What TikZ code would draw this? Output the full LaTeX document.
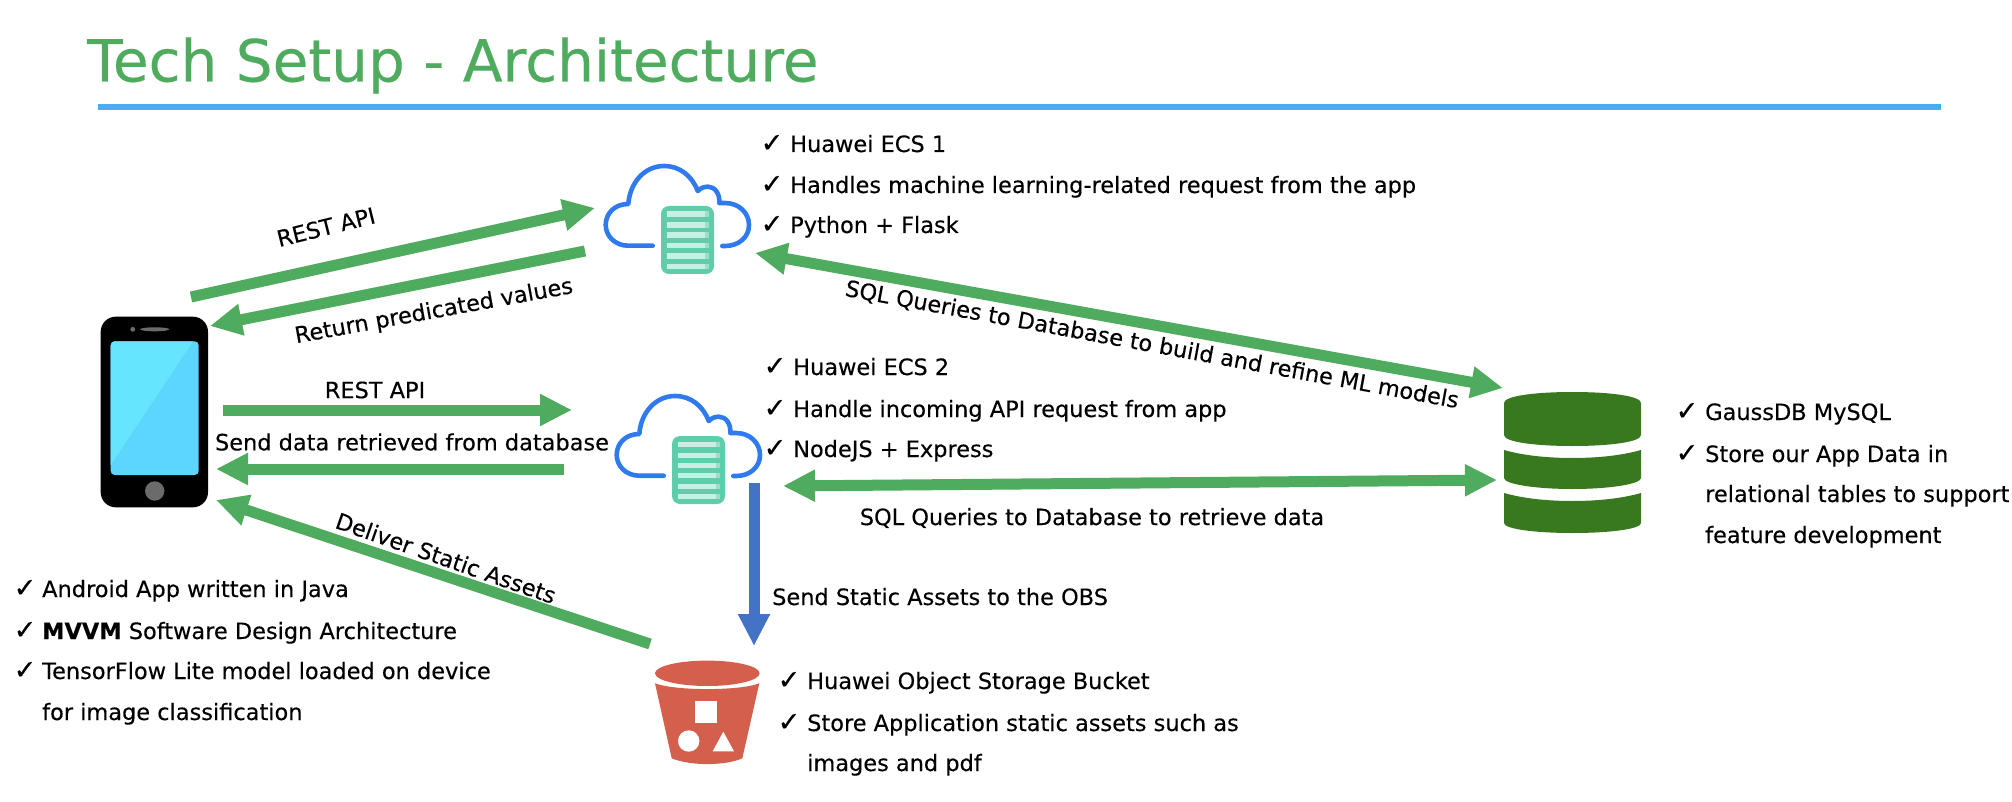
\documentclass[tikz,border=0pt]{standalone}
\usepackage{fontspec}
\setmainfont{DejaVu Sans}
\usetikzlibrary{arrows.meta}
\definecolor{brandgreen}{HTML}{4FAC5E}
\definecolor{rulesky}{HTML}{4AADEC}
\definecolor{cloudblue}{HTML}{2F7BEE}
\definecolor{srvgreen}{HTML}{5FCDAB}
\definecolor{srvpale}{HTML}{C5F0E3}
\definecolor{srvend}{HTML}{A2DCC9}
\definecolor{dbgreen}{HTML}{38791F}
\definecolor{bucketred}{HTML}{D45F4D}
\definecolor{sendblue}{HTML}{4472C4}
\definecolor{screenA}{HTML}{66E5FF}
\definecolor{screenB}{HTML}{5CD6FC}
\definecolor{phonegray}{HTML}{6B6B6B}
\tikzset{
  x=1pt,y=-1pt,
  body/.style={font=\fontsize{22.45}{26}\selectfont\addfontfeature{FakeBold=0.25},inner sep=0pt,text=black},
  item/.style={body,anchor=base west},
  tick/.style={inner sep=0pt,text=black,anchor=base,font=\fontsize{27}{30}\selectfont\addfontfeature{FakeBold=0.6}},
  blockg/.style={brandgreen,line width=11pt,-{Triangle[length=32pt,width=30pt]}},
  blockd/.style={brandgreen,line width=11pt,{Triangle[length=32pt,width=30pt]}-{Triangle[length=32pt,width=30pt]}},
  blockb/.style={sendblue,line width=11pt,-{Triangle[length=32pt,width=30pt]}},
  cloudsrv/.pic={
    \draw[cloudblue,line width=4.6pt,line cap=round,line join=round]
      (652.7,245.7) -- (628.3,245.7)
      .. controls (615,245.7) and (605.7,236) .. (605.7,225)
      .. controls (605.7,213) and (615,204) .. (628.3,204)
      .. controls (630,182) and (645,166) .. (664,166)
      .. controls (680,166) and (692,176) .. (697.7,191)
      .. controls (701,187.5) and (705,186.7) .. (708,186.7)
      .. controls (715,186.7) and (720,194) .. (719.3,203)
      -- (725,203)
      .. controls (739,203) and (749,213) .. (749,225)
      .. controls (749,237) and (739,246) .. (725,246)
      -- (722.3,246);
    \fill[srvgreen,rounded corners=8pt] (661,206) rectangle (714,274);
    \foreach \yy in {211.5,222.5,232.5,243,253.5,264}{
      \fill[srvpale] (667,\yy) rectangle (705,\yy+5.3);
      \fill[srvend] (705,\yy) rectangle (708.5,\yy+5.3);
    }
  }
}
\begin{document}
\begin{tikzpicture}
\useasboundingbox (0,0) rectangle (2012,802);
\fill[white] (0,0) rectangle (2012,802);

% title
\node[anchor=base west,inner sep=0pt,text=brandgreen,font=\fontsize{58.1}{64}\selectfont\addfontfeature{FakeBold=0.3}] (title) at (87,81.5) {Tech Setup - Architecture};
\fill[rulesky] (98,104) rectangle (1941,110);

% phone
\fill[black,rounded corners=15pt] (100.7,316.7) rectangle (208,507.3);
\fill[screenB,rounded corners=4pt] (110.7,341.3) rectangle (198.7,475);
\begin{scope}
  \clip[rounded corners=4pt] (110.7,341.3) rectangle (198.7,475);
  \fill[screenA] (110.7,341.3) -- (193,341.3) -- (110.7,465) -- cycle;
\end{scope}
\fill[phonegray] (132.7,329.3) circle (2.4);
\fill[phonegray] (154.7,329.3) ellipse (14.7 and 2);
\fill[phonegray] (154.7,491) circle (9.7);

% clouds with servers
\pic (ecsa) at (0,0) {cloudsrv};
\pic (ecsb) at (11,230) {cloudsrv};

% database
\fill[dbgreen] (1504,403) .. controls (1504,396) and (1535,392) .. (1572.5,392)
   .. controls (1610,392) and (1641,396) .. (1641,403) -- (1641,435)
   .. controls (1641,442) and (1610,446) .. (1572.5,446)
   .. controls (1535,446) and (1504,442) .. (1504,435) -- cycle;
\fill[dbgreen] (1504,450) .. controls (1525,456) and (1550,458) .. (1572.5,458)
   .. controls (1595,458) and (1620,456) .. (1641,450) -- (1641,478)
   .. controls (1641,484) and (1610,489) .. (1572.5,489)
   .. controls (1535,489) and (1504,484) .. (1504,478) -- cycle;
\fill[dbgreen] (1504,493) .. controls (1525,499) and (1550,501) .. (1572.5,501)
   .. controls (1595,501) and (1620,499) .. (1641,493) -- (1641,523)
   .. controls (1641,529) and (1610,533) .. (1572.5,533)
   .. controls (1535,533) and (1504,529) .. (1504,523) -- cycle;

% bucket
\fill[bucketred] (707.3,673.3) ellipse (52.3 and 12.7);
\fill[bucketred] (655,683.3) .. controls (675,691) and (740,691) .. (759.3,683.3)
   -- (742.3,758.3) .. controls (725,766) and (690,766) .. (671.7,758.3) -- cycle;
\fill[white] (695.3,700.7) rectangle (717.3,722.7);
\fill[white] (688.7,741) circle (10.7);
\fill[white] (712.7,751.3) -- (734,751.3) -- (723.3,731.7) -- cycle;

% connector ends
\coordinate (restAstart) at (191,297);
\coordinate (restAtip) at (595,208);
\coordinate (retAstart) at (585,251);
\coordinate (retAtip) at (210,326);
\coordinate (restBstart) at (223,410);
\coordinate (restBtip) at (572,410);
\coordinate (retBstart) at (564,469);
\coordinate (retBtip) at (216,469);
\coordinate (assetstart) at (650,644);
\coordinate (assettip) at (216,500);
\coordinate (sendstart) at (754,483);
\coordinate (sendtip) at (754,646);
\coordinate (sqlAa) at (755,253);
\coordinate (sqlAb) at (1503,388);
\coordinate (sqlBa) at (783,486);
\coordinate (sqlBb) at (1497,480);

\draw[blockg] (restAstart) -- (restAtip);
\draw[blockg] (retAstart) -- (retAtip);
\draw[blockg] (restBstart) -- (restBtip);
\draw[blockg] (retBstart) -- (retBtip);
\draw[blockg] (assetstart) -- (assettip);
\draw[blockb] (sendstart) -- (sendtip);
\draw[blockd] (sqlAa) -- (sqlAb);
\draw[blockd] (sqlBa) -- (sqlBb);

% connector labels
\node[body,rotate=14] (lrestA) at (326,227) {REST API};
\node[body,rotate=10.3] (lretA) at (434,312) {Return predicated values};
\node[body] (lrestB) at (375,390) {REST API};
\node[body] (lsend) at (412,442) {Send data retrieved from database};
\node[body,rotate=-19.3] (lasset) at (446,558) {Deliver Static Assets};
\node[body,rotate=-10.4] (lsqlA) at (1152,345) {SQL Queries to Database to build and refine ML models};
\node[body] (lsqlB) at (1092,518) {SQL Queries to Database to retrieve data};
\node[item] (lobs) at (772,605) {Send Static Assets to the OBS};

% lists
\newcommand{\ck}[2]{\node[tick] at (#1,#2) {✓};}
\ck{772}{152}\ck{772}{193}\ck{772}{233}
\node[item] (e1a) at (790,152) {Huawei ECS 1};
\node[item] (e1b) at (790,193) {Handles machine learning-related request from the app};
\node[item] (e1c) at (790,233) {Python + Flask};

\ck{775}{375}\ck{775}{417}\ck{775}{457}
\node[item] (e2a) at (793,375) {Huawei ECS 2};
\node[item] (e2b) at (793,417) {Handle incoming API request from app};
\node[item] (e2c) at (793,457) {NodeJS + Express};

\ck{1687}{420}\ck{1687}{462}
\node[item] (d1) at (1705,420) {GaussDB MySQL};
\node[item] (d2) at (1705,462) {Store our App Data in};
\node[item] (d3) at (1705,502) {relational tables to support};
\node[item] (d4) at (1705,543) {feature development};

\ck{25}{597}\ck{25}{639}\ck{25}{679}
\node[item] (p1) at (42,597) {Android App written in Java};
\node[item] (p2) at (42,639) {\textbf{MVVM} Software Design Architecture};
\node[item] (p3) at (42,679) {TensorFlow Lite model loaded on device};
\node[item] (p4) at (42,720) {for image classification};

\ck{789}{689}\ck{789}{731}
\node[item] (b1) at (807,689) {Huawei Object Storage Bucket};
\node[item] (b2) at (807,731) {Store Application static assets such as};
\node[item] (b3) at (807,771) {images and pdf};
\end{tikzpicture}
\end{document}
